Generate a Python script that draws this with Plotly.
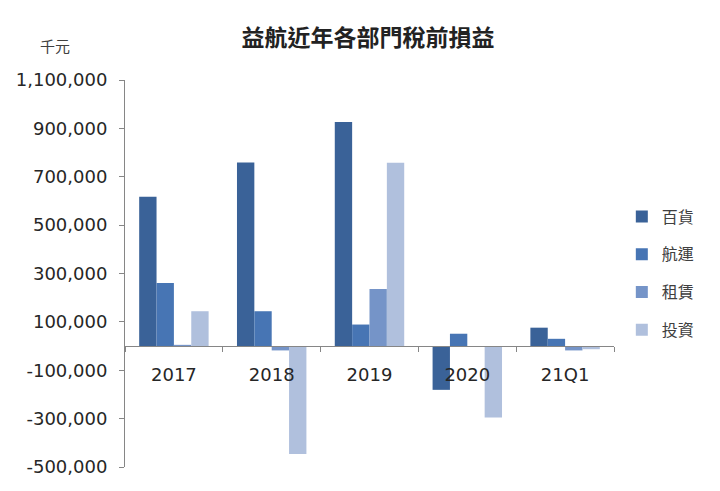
import plotly.graph_objects as go

# 千元
periods = ["2017", "2018", "2019", "2020", "21Q1"]
dept_store = [617000, 759000, 926000, -181000, 76000]   # 百貨
shipping = [261000, 144000, 89000, 51000, 30000]        # 航運
leasing = [5000, -18000, 236000, -2000, -18000]         # 租賃
investment = [144000, -446000, 758000, -295000, -13000] # 投資

series_names = ["百貨", "航運", "租賃", "投資"]
colors = ["#3A6298", "#4775B4", "#7594C8", "#B0C0DD"]
y_ticks = [-500000, -300000, -100000, 100000, 300000, 500000, 700000, 900000, 1100000]
y_tick_text = ["-500,000", "-300,000", "-100,000", "100,000", "300,000",
               "500,000", "700,000", "900,000", "1,100,000"]

cjk_font = "Noto Sans CJK TC, Noto Sans, sans-serif"
num_font = "DejaVu Sans, sans-serif"

fig = go.Figure()
for name, vals, col in zip(series_names, [dept_store, shipping, leasing, investment], colors):
    fig.add_trace(go.Bar(
        name=name, x=periods, y=vals,
        marker=dict(color=col, line=dict(width=0)),
        legendgroup=name,
    ))

y_min, y_max = -500000, 1100000
zero_pos = (0 - y_min) / (y_max - y_min)

# the page body adds an 8px offset, so margins are trimmed to compensate
fig.update_layout(
    width=720, height=491,
    margin=dict(l=117, r=114, t=72, b=32, autoexpand=False),
    paper_bgcolor="white", plot_bgcolor="white",
    font=dict(family=cjk_font, color="#404040", size=16),
    barmode="group", bargap=0.29, bargroupgap=0,
    title=dict(text="<b>益航近年各部門稅前損益</b>", x=0.5, xanchor="center",
               y=0.939, yanchor="middle",
               font=dict(size=23, color="#222222", family=cjk_font)),
    showlegend=True,
    legend=dict(x=1.016, xanchor="left", y=0.5, yanchor="middle",
                font=dict(size=16, color="#404040"),
                tracegroupgap=14, itemwidth=30, bgcolor="rgba(0,0,0,0)"),
    xaxis=dict(
        anchor="free", position=zero_pos, automargin=False,
        showline=True, linecolor="#868686", linewidth=1,
        ticks="outside", ticklen=5, tickcolor="#868686", tickson="boundaries",
        showgrid=False, zeroline=False, ticklabelstandoff=12,
        tickfont=dict(size=18, color="#262626", family=num_font),
    ),
    yaxis=dict(
        range=[y_min, y_max], tickvals=y_ticks, ticktext=y_tick_text,
        automargin=False,
        showline=True, linecolor="#868686", linewidth=1,
        ticks="outside", ticklen=5, tickcolor="#868686",
        showgrid=False, zeroline=False, ticklabelstandoff=8,
        tickfont=dict(size=18, color="#262626", family=num_font),
    ),
    annotations=[dict(text="千元", xref="paper", yref="paper", x=-0.143, y=1.09,
                      xanchor="center", yanchor="middle", showarrow=False,
                      font=dict(size=15, color="#404040"))],
)

fig.write_html("out.html")
